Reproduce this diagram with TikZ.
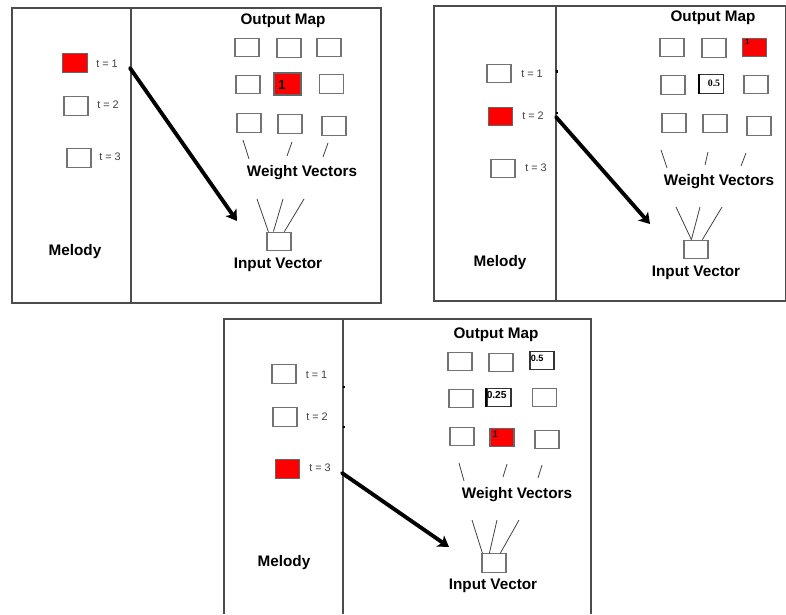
\documentclass[tikz,border=0pt]{standalone}
\usepackage{fontspec}
\setmainfont{Liberation Sans}
\newfontfamily\numserif{Liberation Serif}
\usetikzlibrary{arrows.meta}

\tikzset{
	frame/.style={draw=black!70, line width=0.6pt},
	cell/.style={draw=black!55, line width=0.7pt, minimum width=0.48cm, minimum height=0.37cm, inner sep=0pt},
	hot/.style={cell, fill=red, draw=black!60},
	marked/.style={cell, draw=black!80},
	heading/.style={inner sep=0pt, font=\fontsize{8.7}{10}\selectfont\bfseries},
	stamp/.style={inner sep=0pt, text=black!75, font=\fontsize{6.2}{7}\selectfont},
	val/.style={inner sep=0pt, anchor=north west, font=\fontsize{5.2}{6}\selectfont\bfseries},
	wire/.style={draw=black!75, line width=0.45pt},
	jump/.style={line width=2.2pt, line cap=round, -{Stealth[length=6pt,width=7.5pt,inset=1.5pt]}}
}

\begin{document}
\begin{tikzpicture}[x=0.02cm, y=-0.02cm]
			%%%%% START %%%%%
			\useasboundingbox (0, 0) rectangle (786, 614);
			
			%% first step, t = 1
			\draw[frame] (12, 8) rectangle (381, 303);
			\draw[frame] (131, 8) -- (131, 303);
			
			\node[hot, minimum width=0.5cm] (am1) at (75, 63) {};
			\node[cell] (am2) at (76, 106) {};
			\node[cell] (am3) at (79, 158) {};
			\node[stamp] at (107, 64) {t = 1};
			\node[stamp] at (108, 105) {t = 2};
			\node[stamp] at (110, 157) {t = 3};
			\node[heading] at (75, 252) {Melody};
			
			\node[heading] at (283, 21) {Output Map};
			\node[cell] (a11) at (247, 47.5) {};
			\node[cell] (a12) at (289, 48) {};
			\node[cell] (a13) at (329, 47.5) {};
			\node[cell] (a21) at (248, 84.5) {};
			\node[hot, minimum width=0.54cm, minimum height=0.44cm] (a22) at (287.5, 84) {};
			\node[cell] (a23) at (331.5, 84) {};
			\node[cell] (a31) at (249, 123) {};
			\node[cell] (a32) at (290, 124) {};
			\node[cell] (a33) at (334, 126) {};
			\node[inner sep=0pt, font=\fontsize{7.4}{8}\selectfont\bfseries] at (282, 85) {1};
			
			\draw[wire] (243, 140) -- (249, 159);
			\draw[wire] (292, 142) -- (287, 156);
			\draw[wire] (328, 143) -- (323, 157);
			\node[heading] at (302, 173) {Weight Vectors};
			
			\node[cell] (ain) at (279, 241.5) {};
			\coordinate (af1) at (257, 199);
			\coordinate (af2) at (283, 199);
			\coordinate (af3) at (304, 199);
			\draw[wire] (af1) -- ([xshift=0.04cm]ain.north west);
			\draw[wire] (af2) -- ([xshift=0.14cm]ain.north west);
			\draw[wire] (af3) -- ([xshift=0.36cm]ain.north west);
			\node[heading] at (278, 265) {Input Vector};
			
			\coordinate (astart) at (130, 68);
			\coordinate (aend) at (237, 221);
			\draw[jump] (astart) -- (aend);
			
			%% second step, t = 2
			\draw[frame] (434, 6) rectangle (785.5, 301);
			\draw[frame] (556, 6) -- (556, 301);
			\draw[line width=0.6pt] (557, 70) -- (557, 73);
			\draw[line width=0.6pt] (557, 112) -- (557, 114);
			
			\node[cell] (bm1) at (499, 73.5) {};
			\node[hot] (bm2) at (500.5, 116.5) {};
			\node[cell] (bm3) at (503, 168.5) {};
			\node[stamp] at (532, 74) {t = 1};
			\node[stamp] at (533, 116) {t = 2};
			\node[stamp] at (536, 168) {t = 3};
			\node[heading] at (500, 263) {Melody};
			
			\node[heading] at (713, 18) {Output Map};
			\node[cell] (b11) at (672, 47.5) {};
			\node[cell] (b12) at (714, 48) {};
			\node[hot] (b13) at (754.5, 47.5) {};
			\node[cell] (b21) at (673, 85) {};
			\node[marked] (b22) at (711.5, 84) {};
			\node[cell] (b23) at (756, 84.5) {};
			\node[cell] (b31) at (674, 123) {};
			\node[cell] (b32) at (715, 123.5) {};
			\node[cell] (b33) at (759, 126) {};
			\draw[line width=1.2pt] (b22.north west) -- (b22.south west);
			\node[val, font=\fontsize{4.2}{5}\selectfont\bfseries] at ([xshift=0.06cm, yshift=-0.02cm]b13.north west) {1};
			\node[inner sep=0pt, font=\fontsize{5.6}{6}\selectfont\numserif\bfseries] at (714, 83) {0.5};
			
			\draw[wire] (661, 150) -- (667, 168);
			\draw[wire] (708, 152) -- (705, 165);
			\draw[wire] (746, 153) -- (741, 166);
			\node[heading] at (719, 182) {Weight Vectors};
			
			\node[cell] (bin) at (696, 249.5) {};
			\coordinate (bf1) at (676, 207);
			\coordinate (bf2) at (700, 207);
			\coordinate (bf3) at (722, 207);
			\draw[wire] (bf1) -- ([xshift=0.16cm]bin.north west);
			\draw[wire] (bf2) -- ([xshift=0.16cm]bin.north west);
			\draw[wire] (bf3) -- ([xshift=0.38cm]bin.north west);
			\node[heading] at (696, 273) {Input Vector};
			
			\coordinate (bstart) at (556, 117);
			\coordinate (bend) at (650, 224);
			\draw[jump] (bstart) -- (bend);
			
			%% third step, t = 3
			\draw[frame] (224, 614) -- (224, 319) -- (591, 319) -- (591, 614);
			\draw[frame] (343, 319) -- (343, 614);
			\draw[line width=0.6pt] (344, 386) -- (344, 388);
			\draw[line width=0.6pt] (344, 426) -- (344, 428);
			
			\node[cell] (cm1) at (284, 374) {};
			\node[cell] (cm2) at (285, 417) {};
			\node[hot] (cm3) at (287.5, 469) {};
			\node[stamp] at (316.5, 375) {t = 1};
			\node[stamp] at (317, 417) {t = 2};
			\node[stamp] at (320, 468) {t = 3};
			\node[heading] at (284, 563) {Melody};
			
			\node[heading] at (496, 335) {Output Map};
			\node[cell] (c11) at (460, 361.5) {};
			\node[cell] (c12) at (501, 362.5) {};
			\node[marked] (c13) at (542, 360.5) {};
			\node[cell] (c21) at (461, 398.5) {};
			\node[marked] (c22) at (499, 397.5) {};
			\node[cell] (c23) at (544.5, 397.5) {};
			\node[cell] (c31) at (462, 436.5) {};
			\node[hot] (c32) at (502, 437.5) {};
			\node[cell] (c33) at (547, 439.5) {};
			\draw[line width=1.2pt] (c22.north west) -- (c22.south west);
			\node[val] at ([xshift=0.02cm, yshift=-0.08cm]c13.north west) {0.5};
			\node[val, font=\fontsize{5.8}{6}\selectfont\bfseries] at ([xshift=0.0cm, yshift=-0.06cm]c22.north west) {0.25};
			\node[val] at ([xshift=0.06cm, yshift=-0.06cm]c32.north west) {1};
			
			\draw[wire] (459, 463) -- (464, 481);
			\draw[wire] (507, 464) -- (503, 477);
			\draw[wire] (542, 465) -- (538, 478);
			\node[heading] at (517, 495) {Weight Vectors};
			
			\node[cell] (cin) at (494, 563) {};
			\coordinate (cf1) at (472, 520);
			\coordinate (cf2) at (497, 520);
			\coordinate (cf3) at (519, 520);
			\draw[wire] (cf1) -- ([xshift=0.02cm]cin.north west);
			\draw[wire] (cf2) -- ([xshift=0.16cm]cin.north west);
			\draw[wire] (cf3) -- ([xshift=0.38cm]cin.north west);
			\node[heading] at (493, 586) {Input Vector};
			
			\coordinate (cstart) at (342, 473);
			\coordinate (cend) at (449, 547);
			\draw[jump] (cstart) -- (cend);
			
			%%%%% END %%%%%
\end{tikzpicture}
\end{document}
